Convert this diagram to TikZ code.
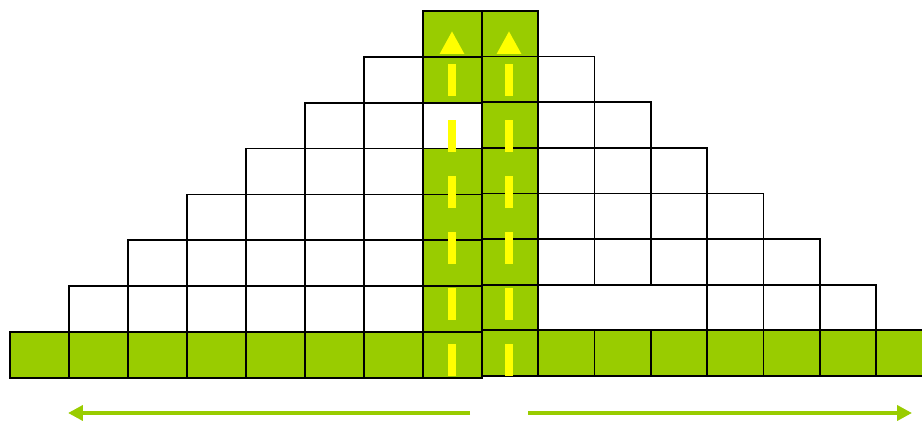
\documentclass[tikz,border=0pt]{standalone}
\usepackage{xcolor}
\usepackage{tikz}
\usetikzlibrary{arrows.meta}
\definecolor{cellgreen}{RGB}{153,204,0}
\definecolor{flowyellow}{RGB}{255,255,0}

\begin{document}
\begin{tikzpicture}[
  x=0.02cm, y=-0.02cm,
  cell/.style={draw=black,line width=1pt,fill=white},
  hot/.style={cell,fill=cellgreen},
  flow/.style={-{Triangle[length=0.46cm,width=0.46cm]},draw=flowyellow,line width=0.16cm,dash pattern=on 0.64cm off 0.48cm},
  spread/.style={-{Triangle[length=0.3cm,width=0.3cm]},draw=cellgreen,line width=0.08cm}
]
\useasboundingbox (0,0) rectangle (922,421);
% left half
\foreach \r in {1,...,6}
  \foreach \c in {\r,...,6}
    \draw[cell] ({10+59*\c},{378-45.875*\r}) rectangle ++(59,-45.875);
\foreach \c in {0,...,7}
  \draw[hot] ({10+59*\c},378) rectangle ++(59,-45.875);
\foreach \r in {1,2,3,4,6,7}
  \draw[hot] (423,{378-45.875*\r}) rectangle ++(59,-45.875);
\draw[cell] (423,{378-45.875*5}) rectangle ++(59,-45.875);
% right half
\foreach \c in {4,5,6}
  \draw[cell] ({482+56.3*\c},{376-45.625}) rectangle ++(56.3,-45.625);
\foreach \r in {2,...,6}
  \foreach \c in {1,...,\numexpr7-\r\relax}
    \draw[cell] ({482+56.3*\c},{376-45.625*\r}) rectangle ++(56.3,-45.625);
\foreach \c in {0,...,7}
  \draw[hot] ({482+56.3*\c},376) rectangle ++(56.3,-45.625);
\foreach \r in {1,...,7}
  \draw[hot] (482,{376-45.625*\r}) rectangle ++(56.3,-45.625);
% upward flows
\coordinate (lcol-start) at (452,376);
\coordinate (lcol-end) at (452,31);
\coordinate (rcol-start) at (509,376);
\coordinate (rcol-end) at (509,31);
\draw[flow] (lcol-start) -- (lcol-end);
\draw[flow] (rcol-start) -- (rcol-end);
% sideways spread
\coordinate (west-start) at (470,413);
\coordinate (west-end) at (68,413);
\coordinate (east-start) at (528,413);
\coordinate (east-end) at (912,413);
\draw[spread] (west-start) -- (west-end);
\draw[spread] (east-start) -- (east-end);
\end{tikzpicture}
\end{document}
